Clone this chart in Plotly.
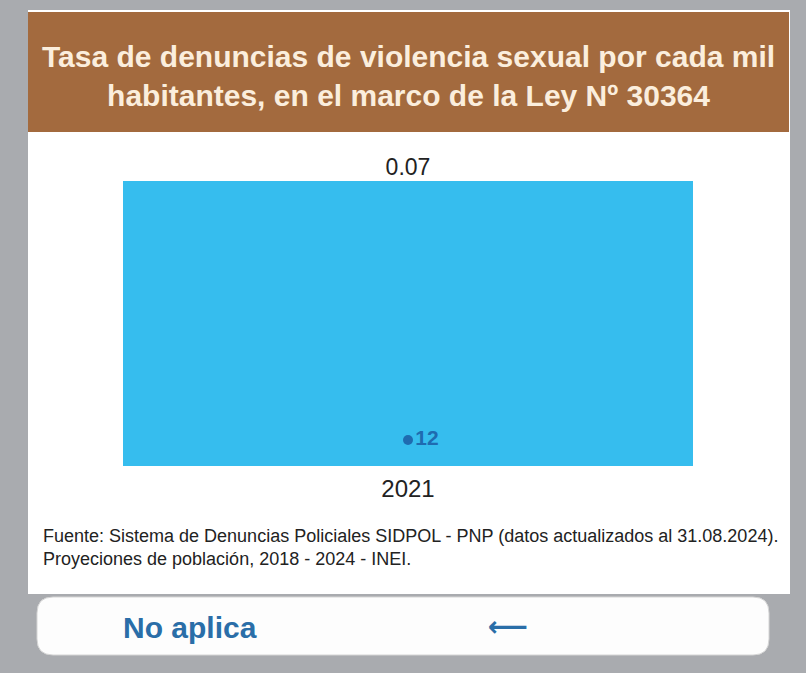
import plotly.graph_objects as go

# Data
categories = ["2021"]
tasa_values = [0.07]
tasa_labels = ["0.07"]
casos_values = [12]
casos_labels = ["<b>12</b>"]

title_text = "<b>Tasa de denuncias de violencia sexual por cada mil<br>habitantes, en el marco de la Ley Nº 30364</b>"
source_text = ("Fuente: Sistema de Denuncias Policiales SIDPOL - PNP (datos actualizados al 31.08.2024).<br>"
               "Proyeciones de población, 2018 - 2024 - INEI.")

W, H = 806, 673
L, R, T, B = 123, 693, 140, 466  # plot area pixels
FONT = "Liberation Sans, Arial"


def px(x):
    return (x - L) / (R - L)


def py(y):
    return (B - y) / (B - T)


fig = go.Figure()
fig.add_trace(go.Bar(
    x=categories, y=tasa_values,
    marker=dict(color="#36bdee", line=dict(width=0)),
    width=1, hoverinfo="skip", showlegend=False,
))
fig.add_trace(go.Scatter(
    x=categories, y=tasa_values, mode="text", text=tasa_labels, textposition="top center",
    textfont=dict(size=23, color="#222222", family=FONT),
    hoverinfo="skip", showlegend=False, cliponaxis=False,
))
fig.add_trace(go.Scatter(
    x=categories, y=casos_values, yaxis="y2", mode="markers+text",
    text=casos_labels, textposition="middle right",
    marker=dict(color="#1f6bb0", size=10),
    textfont=dict(size=21, color="#1f6bb0", family=FONT),
    hoverinfo="skip", showlegend=False, cliponaxis=False,
))

bx0, bx1, by0, by1, r = 37, 769, 597, 655, 16


def P(x, y):
    return f"{px(x)},{py(y)}"


button_path = (f"M {P(bx0 + r, by0)} L {P(bx1 - r, by0)} Q {P(bx1, by0)} {P(bx1, by0 + r)} "
               f"L {P(bx1, by1 - r)} Q {P(bx1, by1)} {P(bx1 - r, by1)} "
               f"L {P(bx0 + r, by1)} Q {P(bx0, by1)} {P(bx0, by1 - r)} "
               f"L {P(bx0, by0 + r)} Q {P(bx0, by0)} {P(bx0 + r, by0)} Z")

shapes = [
    dict(type="rect", xref="paper", yref="paper", x0=px(28), x1=px(790), y0=py(594), y1=py(10),
         fillcolor="white", line=dict(width=0), layer="below"),
    dict(type="rect", xref="paper", yref="paper", x0=px(28), x1=px(789), y0=py(132), y1=py(12),
         fillcolor="#a36a3e", line=dict(width=0), layer="below"),
    dict(type="path", xref="paper", yref="paper", path=button_path,
         fillcolor="#fdfdfd", line=dict(color="#d5d5d5", width=1), layer="below"),
]

annotations = [
    dict(text=title_text, xref="paper", yref="paper", x=px(408), y=py(76), xanchor="center", yanchor="middle",
         showarrow=False, font=dict(size=30, color="#fbeedd", family=FONT), align="center"),
    dict(text=source_text, xref="paper", yref="paper", x=px(41), y=py(547), xanchor="left", yanchor="middle",
         showarrow=False, font=dict(size=18, color="#222222", family=FONT), align="left"),
    dict(text="<b>No aplica</b>", xref="paper", yref="paper", x=px(121), y=py(627), xanchor="left", yanchor="middle",
         showarrow=False, font=dict(size=30, color="#2a6ea8", family=FONT)),
    dict(text="<b>⟵</b>", xref="paper", yref="paper", x=px(508), y=py(626), xanchor="center", yanchor="middle",
         showarrow=False, font=dict(size=28, color="#2a6ea8", family="DejaVu Sans")),
]

fig.update_layout(
    width=W, height=H,
    margin=dict(l=L, r=W - R, t=T, b=H - B, pad=0),
    paper_bgcolor="#a9abaf", plot_bgcolor="rgba(0,0,0,0)",
    shapes=shapes, annotations=annotations,
    xaxis=dict(type="category", range=[-0.5, 0.5], showgrid=False, zeroline=False, showline=False,
               ticks="", ticklabelstandoff=6,
               tickfont=dict(size=24, color="#222222", family=FONT)),
    yaxis=dict(range=[0, 0.08], visible=False, showgrid=False, fixedrange=True),
    yaxis2=dict(range=[0, 150], visible=False, overlaying="y", side="right", showgrid=False),
    bargap=0,
)

fig.write_html("out.html", config={"displayModeBar": False},
               post_script="document.body.style.margin='0';document.body.style.background='#a9abaf';")
